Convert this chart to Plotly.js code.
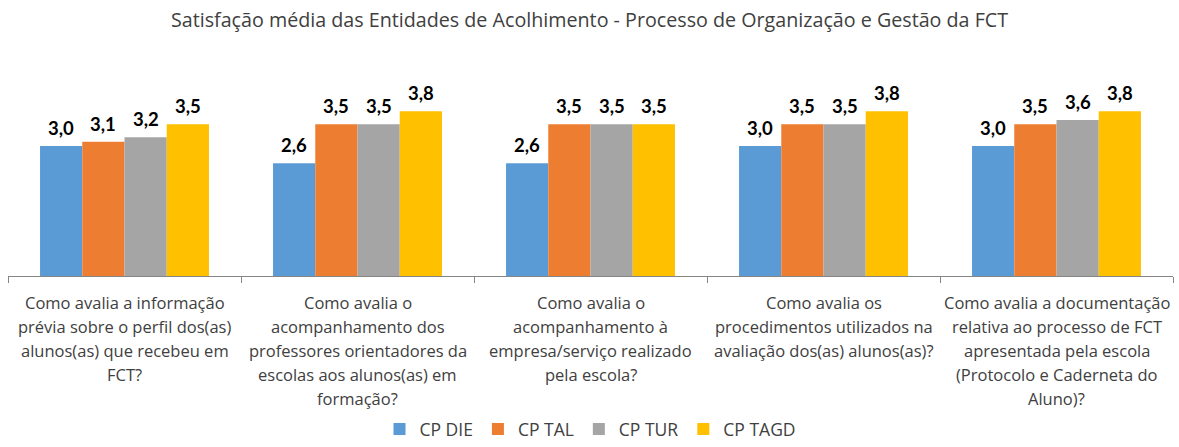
<!DOCTYPE html>
<html><head><meta charset="utf-8">
<script src="https://cdn.plot.ly/plotly-3.0.1.min.js"></script>
<style>html,body{margin:0;padding:0;background:#fff}#chart{width:1179px;height:447px}</style>
</head><body><div id="chart"></div>
<script>
const categoryLines = [
  ["Como avalia a informação", "prévia sobre o perfil dos(as)", "alunos(as) que recebeu em", "FCT?"],
  ["Como avalia o", "acompanhamento dos", "professores orientadores da", "escolas aos alunos(as) em", "formação?"],
  ["Como avalia o", "acompanhamento à", "empresa/serviço realizado", "pela escola?"],
  ["Como avalia os", "procedimentos utilizados na", "avaliação dos(as) alunos(as)?"],
  ["Como avalia a documentação", "relativa ao processo de FCT", "apresentada pela escola", "(Protocolo e Caderneta do", "Aluno)?"]
];
const categories = categoryLines.map(l => l.join(" "));
const seriesNames = ["CP DIE", "CP TAL", "CP TUR", "CP TAGD"];
const cpDIE  = [3.0, 2.6, 2.6, 3.0, 3.0];
const cpTAL  = [3.1, 3.5, 3.5, 3.5, 3.5];
const cpTUR  = [3.2, 3.5, 3.5, 3.5, 3.6];
const cpTAGD = [3.5, 3.8, 3.5, 3.8, 3.8];
const seriesValues = [cpDIE, cpTAL, cpTUR, cpTAGD];
const colors = ["#5B9BD5", "#ED7D31", "#A5A5A5", "#FFC000"];

const FONT = "'Open Sans', sans-serif";
const LFONT = "Lato, sans-serif";
const bargap = 0.275;
const bw = (1 - bargap) / seriesNames.length;

const traces = seriesNames.map((n, i) => ({
  type: "bar", name: n, x: categories, y: seriesValues[i],
  marker: {color: colors[i]}, hoverinfo: "skip"
}));

const annotations = [];
seriesValues.forEach((vals, si) => {
  vals.forEach((v, ci) => {
    annotations.push({
      xref: "x", yref: "y", x: ci + (si - (seriesNames.length - 1) / 2) * bw, y: v,
      text: "<b>" + v.toFixed(1).replace(".", ",") + "</b>",
      showarrow: false, yanchor: "bottom", yshift: 5,
      font: {family: LFONT, size: 18.5, color: "#000"}
    });
  });
});
categoryLines.forEach((lines, ci) => {
  lines.forEach((t, li) => {
    annotations.push({
      xref: "x", yref: "paper", x: ci, y: 0, yanchor: "middle",
      yshift: -26 - 24 * li, text: t, showarrow: false,
      font: {family: FONT, size: 16.5, color: "#404040"}
    });
  });
});

const layout = {
  width: 1179, height: 447,
  margin: {l: 8, r: 6, t: 81, b: 171, autoexpand: false},
  paper_bgcolor: "#fff", plot_bgcolor: "#fff",
  separators: ",.",
  barmode: "group", bargap: bargap, bargroupgap: 0,
  title: {text: "Satisfação média das Entidades de Acolhimento - Processo de Organização e Gestão da FCT",
          x: 0.5, xanchor: "center", y: 1 - 20 / 447, yanchor: "middle", yref: "container",
          font: {family: FONT, size: 19.7, color: "#404040"}},
  xaxis: {type: "category", showticklabels: false, showline: true, linecolor: "#868686", linewidth: 1,
          ticks: "outside", tickson: "boundaries", ticklen: 6, tickcolor: "#868686", showgrid: false,
          zeroline: false, range: [-0.5, categories.length - 0.5]},
  yaxis: {range: [0, 4.5], visible: false, showgrid: false, zeroline: false},
  showlegend: true,
  legend: {orientation: "h", x: 0.5, xanchor: "center", y: 0, yref: "container", yanchor: "bottom",
           font: {family: FONT, size: 17.5, color: "#404040"}, traceorder: "normal", itemwidth: 30},
  annotations: annotations,
  font: {family: FONT}
};
Plotly.newPlot("chart", traces, layout, {displayModeBar: false, staticPlot: true});
</script></body></html>
